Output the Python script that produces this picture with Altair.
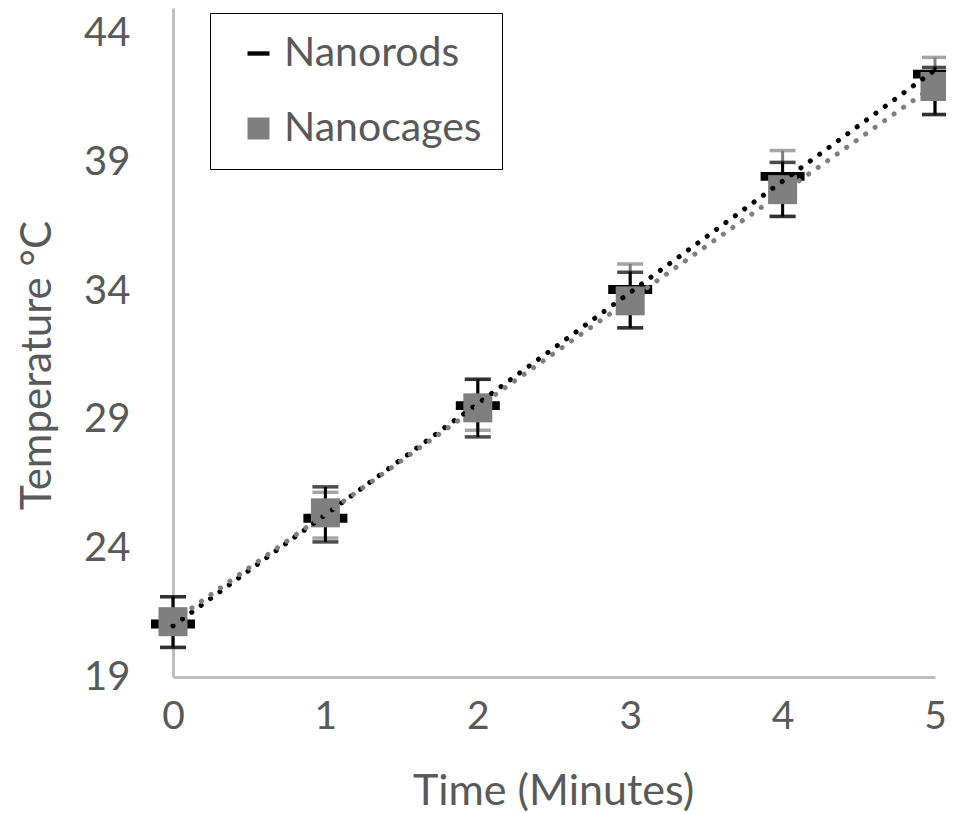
import altair as alt
import pandas as pd

# ---- data ----
time = [0, 1, 2, 3, 4, 5]
series_names = ["Nanorods", "Nanocages"]

rods_mean = [21.06, 25.17, 29.55, 34.06, 38.46, 42.43]
rods_low = [20.15, 24.25, 28.33, 32.57, 36.90, 40.86]
rods_high = [22.12, 26.39, 30.57, 34.73, 39.00, 42.69]

cages_mean = [21.15, 25.38, 29.46, 33.62, 37.94, 41.95]
cages_low = [20.15, 24.40, 28.59, 32.57, 36.90, 40.86]
cages_high = [22.12, 26.18, 30.57, 35.05, 39.46, 43.08]

y_ticks = [19, 24, 29, 34, 39, 44]
x_ticks = [0, 1, 2, 3, 4, 5]

FONT = "Lato"
TXT = "#595959"
GRAY = "#7f7f7f"

rows = []
for name, m, lo, hi in [("Nanorods", rods_mean, rods_low, rods_high),
                        ("Nanocages", cages_mean, cages_low, cages_high)]:
    for t, a, b, c in zip(time, m, lo, hi):
        rows.append({"time": t, "temp": a, "low": b, "high": c, "series": name})
df = pd.DataFrame(rows)
rods = df[df.series == "Nanorods"]
cages = df[df.series == "Nanocages"]

xs = alt.Scale(domain=[0, 5], nice=False, zero=False)
ys = alt.Scale(domain=[19, 45], nice=False, zero=False)

X = alt.X("time:Q", scale=xs, axis=alt.Axis(
    values=x_ticks, format="d", title="Time (Minutes)", grid=False,
    ticks=False, tickSize=0, labelFlush=False,
    domainColor="#bfbfbf", domainWidth=3, labelFont=FONT, labelFontSize=39,
    labelColor=TXT, labelPadding=20, labelBaseline="top",
    titleFont=FONT, titleFontSize=43, titleFontWeight="normal", titleColor=TXT,
    titleX=380, titleY=114, titleBaseline="middle", titleAlign="center"))
Y = alt.Y("temp:Q", scale=ys, axis=alt.Axis(
    values=y_ticks, title="Temperature °C", grid=False, ticks=False, tickSize=0,
    labelFlush=False,
    domainColor="#bfbfbf", domainWidth=3, labelFont=FONT, labelFontSize=40,
    labelColor=TXT, labelPadding=43,
    titleFont=FONT, titleFontSize=42, titleFontWeight="normal", titleColor=TXT,
    titleX=-136, titleY=357, titleAngle=-90, titleBaseline="middle",
    titleAlign="center"))


def errbars(data, color):
    base = alt.Chart(data)
    stem = base.mark_rule(color=color, strokeWidth=3).encode(
        x=alt.X("time:Q", scale=xs), y=alt.Y("low:Q", scale=ys), y2="high:Q")
    top = base.mark_tick(color=color, orient="horizontal", size=26,
                         thickness=3.5).encode(
        x=alt.X("time:Q", scale=xs), y=alt.Y("high:Q", scale=ys))
    bot = base.mark_tick(color=color, orient="horizontal", size=26,
                         thickness=3.5).encode(
        x=alt.X("time:Q", scale=xs), y=alt.Y("low:Q", scale=ys))
    return stem + top + bot


legend = alt.Legend(title=None, orient="none", legendX=37, legendY=5,
                    strokeColor="black", padding=20, rowPadding=33,
                    symbolSize=484, symbolOffset=8, labelOffset=5,
                    labelFont=FONT, labelFontSize=41, labelColor=TXT,
                    labelLimit=400, fillColor="white", symbolOpacity=1)

dash_path = "M-1,-0.2H1V0.2H-1Z"

# small layer underneath the real markers: it only provides the legend
legend_layer = alt.Chart(df).mark_point(
    filled=True, opacity=1, strokeWidth=0, size=484
).encode(
    x=alt.X("time:Q", scale=xs), y=alt.Y("temp:Q", scale=ys),
    shape=alt.Shape("series:N", scale=alt.Scale(domain=series_names,
                                                  range=[dash_path, "square"]),
                    legend=legend),
    color=alt.Color("series:N", scale=alt.Scale(domain=series_names,
                                                range=["black", GRAY]),
                    legend=legend),
)

rod_marks = alt.Chart(rods).mark_point(
    filled=True, opacity=1, strokeWidth=0, shape=dash_path, size=1936,
    color="black"
).encode(x=X, y=Y)

cage_marks = alt.Chart(cages).mark_point(
    filled=True, opacity=1, strokeWidth=0, shape="square", size=841,
    color=GRAY
).encode(x=alt.X("time:Q", scale=xs), y=alt.Y("temp:Q", scale=ys))


def trend(data, color):
    return alt.Chart(data).transform_regression(
        "time", "temp", extent=[0, 5]
    ).mark_line(color=color, strokeWidth=5, strokeDash=[0.1, 11.5],
                strokeCap="round").encode(
        x=alt.X("time:Q", scale=xs), y=alt.Y("temp:Q", scale=ys))


chart = alt.layer(
    legend_layer,
    errbars(cages, GRAY),
    errbars(rods, "black"),
    rod_marks,
    cage_marks,
    trend(rods, "black"),
    trend(cages, GRAY),
).properties(
    width=762, height=669,
    autosize=alt.AutoSizeParams(type="none"),
    padding={"left": 165, "top": 0, "right": 11, "bottom": 150},
).configure(background="white").configure_view(stroke=None, strokeWidth=0)

chart.save("out.html", embed_options={"renderer": "svg", "actions": False})
